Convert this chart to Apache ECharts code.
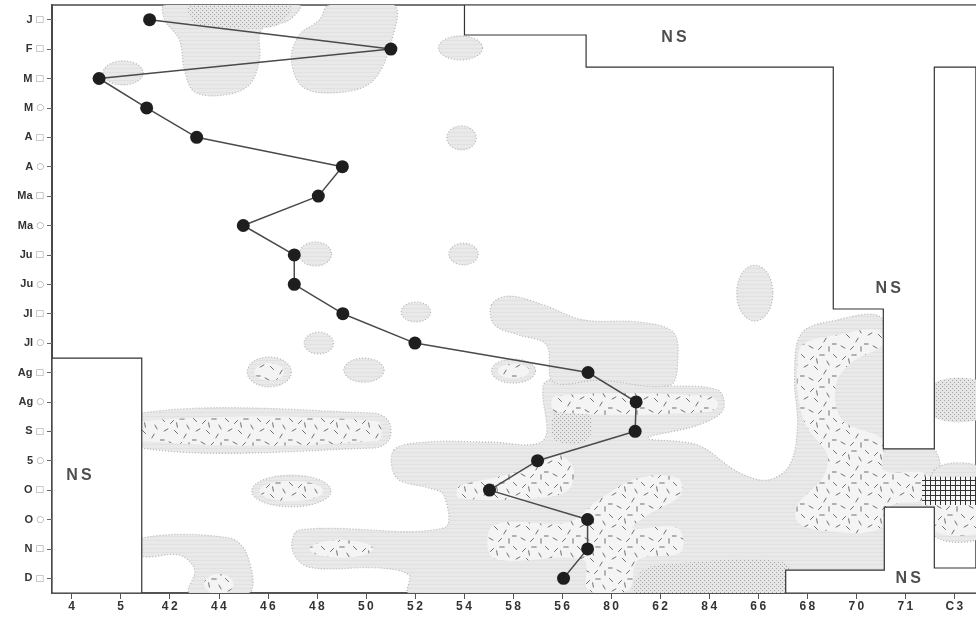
<!DOCTYPE html>
<html>
<head>
<meta charset="utf-8">
<script src="https://cdn.jsdelivr.net/npm/echarts@6/dist/echarts.min.js"></script>
<style>html,body{margin:0;padding:0;background:#fff}#c{width:976px;height:622px}</style>
</head>
<body>
<div id="c"></div>
<script>
// ---------- data ----------
const xLabels = ['4','5','42','44','46','48','50','52','54','58','56','80','62','84','66','68','70','71','C3'];
const yLabels = ['J','F','M','M','A','A','Ma','Ma','Ju','Ju','Jl','Jl','Ag','Ag','S','5','O','O','N','D'];
const yMarks  = ['□','□','□','○','□','○','□','○','□','○','□','○','□','○','□','○','□','○','□','□'];
const trackX  = [1.59,6.51,0.56,1.53,2.55,5.52,5.03,3.50,4.54,4.54,5.53,7.00,10.53,11.51,11.49,9.50,8.52,10.52,10.52,10.03];

// non-significant zones (x in tick units, y in row units)
const nsZones = [
  [[8.01,-0.5],[8.01,0.52],[10.49,0.52],[10.49,1.61],[15.53,1.61],[15.53,9.84],[16.55,9.84],[16.55,14.60],[17.59,14.60],[17.59,1.61],[18.6,1.61],[18.6,-0.5]],
  [[14.56,19.5],[14.56,18.72],[16.57,18.72],[16.57,16.58],[17.59,16.58],[17.59,18.65],[18.6,18.65],[18.6,19.5]],
  [[-0.4,11.51],[1.43,11.51],[1.43,19.5],[-0.4,19.5]]
];
const nsLabels = [[12.28,0.62],[16.65,9.16],[0.15,15.49],[17.06,19.0]];

// shaded contour zones
const grayZones = [
  [[1.90,-0.5],[4.64,-0.5],[4.44,0.01],[3.87,0.35],[3.83,1.37],[3.62,2.22],[3.12,2.56],[2.51,2.46],[2.30,1.71],[2.20,0.69],[1.90,0.01]],
  [[5.25,-0.5],[6.57,-0.5],[6.53,0.69],[6.16,2.05],[5.55,2.46],[4.74,2.32],[4.48,1.37],[4.64,0.52],[5.05,0.01]],
  [[6.57,14.64],[7.28,14.36],[8.50,14.36],[9.62,14.30],[9.62,12.43],[9.92,12.19],[11.14,12.19],[11.96,12.43],[13.18,12.60],[13.28,13.28],[12.77,13.79],[11.75,14.23],[12.77,14.47],[13.58,15.38],[14.19,15.66],[14.64,15.15],[14.80,13.79],[14.74,12.26],[14.86,10.72],[15.41,10.28],[16.55,10.28],[16.55,19.5],[6.88,19.5],[6.88,18.89],[6.27,18.65],[4.84,18.62],[4.50,18.04],[4.64,17.36],[7.59,17.29],[7.59,16.17],[7.28,15.93],[6.63,15.59]],
  [[8.56,9.70],[8.91,9.40],[9.62,9.70],[10.43,10.21],[11.55,10.28],[12.26,10.62],[12.36,11.57],[12.20,12.43],[10.74,12.26],[9.82,12.32],[9.68,11.06],[9.11,10.72],[8.62,10.38]],
  [[1.43,13.38],[6.16,13.38],[6.47,13.68],[6.47,14.30],[6.16,14.57],[1.43,14.57]],
  [[1.43,17.63],[3.22,17.63],[3.58,18.21],[3.62,19.5],[2.40,19.5],[2.51,18.72],[2.20,18.21],[1.43,18.24]],
  [[16.55,14.60],[17.59,14.60],[17.59,16.58],[16.55,16.58]],
  [[17.59,15.32],[18.6,15.32],[18.6,17.53],[17.59,17.53]]
];
const dashZones = [
  [[1.43,13.65],[6.23,13.65],[6.23,14.33],[1.43,14.33]],
  [[9.86,12.80],[13.01,12.80],[13.18,13.07],[13.01,13.34],[9.86,13.34]],
  [[7.89,15.89],[8.71,15.55],[9.52,15.15],[9.92,14.81],[10.23,15.25],[10.13,16.0],[9.52,16.27],[7.89,16.27]],
  [[8.60,17.19],[10.13,17.09],[10.74,16.34],[11.55,15.59],[12.36,15.59],[12.42,16.17],[11.75,16.85],[11.45,17.29],[12.36,17.29],[12.42,18.11],[11.55,18.38],[11.35,19.40],[10.53,19.40],[10.43,18.38],[8.60,18.31]],
  [[14.90,11.06],[15.62,10.72],[16.43,10.55],[16.55,11.06],[15.92,11.64],[15.58,12.43],[15.72,13.62],[16.55,14.30],[16.55,15.32],[17.34,15.39],[17.55,15.72],[17.34,16.34],[16.73,16.51],[16.43,17.36],[15.21,17.36],[14.80,17.08],[14.80,16.51],[15.31,15.59],[15.41,14.81],[14.97,13.79],[14.80,12.60],[14.80,11.74]],
  [[17.59,16.5],[18.6,16.5],[18.6,17.4],[17.59,17.4]]
];
const dotZones = [
  [[2.41,-0.5],[4.44,-0.5],[4.2,0.2],[3.0,0.25],[2.5,0.1]],
  [[9.86,13.38],[10.53,13.38],[10.53,14.30],[9.86,14.30]],
  [[11.49,19.5],[11.65,18.72],[12.36,18.48],[14.56,18.48],[14.56,19.5]],
  [[17.59,12.36],[18.6,12.36],[18.6,13.51],[17.59,13.51]]
];
const gridZones = [
  [[17.34,15.55],[18.6,15.55],[18.6,16.51],[17.34,16.51]]
];
// small blobs: [centreX, centreY, radiusX, radiusY]
const grayBlobs = [
  [1.05,1.81,0.41,0.41],[7.93,0.96,0.45,0.41],[7.95,4.02,0.30,0.41],[7.99,7.97,0.30,0.37],
  [4.97,7.97,0.33,0.41],[7.02,9.94,0.30,0.34],[5.04,11.0,0.30,0.37],[5.96,11.92,0.41,0.41],
  [13.93,9.3,0.37,0.95],[4.03,11.98,0.45,0.51],[9.01,11.95,0.45,0.41],[4.48,16.03,0.81,0.54]
];
const dashBlobs = [
  [4.03,11.98,0.30,0.30],[9.01,11.95,0.32,0.25],[4.48,16.03,0.65,0.35],[3.0,19.2,0.3,0.35],[5.5,18.0,0.65,0.3]
];

// ---------- textures ----------
function makePattern(w, h, draw) {
  const c = document.createElement('canvas');
  c.width = w; c.height = h;
  draw(c.getContext('2d'));
  return { type: 'pattern', image: c, repeat: 'repeat' };
}
const patGray = makePattern(4, 4, ctx => {
  ctx.fillStyle = '#e9e9e9'; ctx.fillRect(0, 0, 4, 4);
  ctx.fillStyle = '#e1e1e1'; ctx.fillRect(0, 0, 4, 1);
});
const patDots = makePattern(4, 4, ctx => {
  ctx.fillStyle = '#e6e6e6'; ctx.fillRect(0, 0, 4, 4);
  ctx.fillStyle = '#a4a4a4'; ctx.fillRect(0, 0, 1, 1); ctx.fillRect(2, 2, 1, 1);
});
const patGrid = makePattern(5, 5, ctx => {
  ctx.fillStyle = '#f6f6f6'; ctx.fillRect(0, 0, 5, 5);
  ctx.fillStyle = '#333'; ctx.fillRect(0, 0, 5, 1); ctx.fillRect(0, 0, 1, 5);
});
const dashMarks = [[3,4,45],[12,6,-45],[22,3,0],[28,11,60],[6,14,-30],[16,16,45],[25,20,-60],[2,24,0],[11,27,30],[20,28,-45],[29,29,90],[17,9,80]];
const patDash = makePattern(32, 32, ctx => {
  ctx.fillStyle = '#f4f4f4'; ctx.fillRect(0, 0, 32, 32);
  ctx.strokeStyle = '#6e6e6e'; ctx.lineWidth = 1;
  dashMarks.forEach(([x, y, a]) => {
    const r = a * Math.PI / 180, dx = Math.cos(r) * 2.6, dy = Math.sin(r) * 2.6;
    ctx.beginPath(); ctx.moveTo(x - dx, y - dy); ctx.lineTo(x + dx, y + dy); ctx.stroke();
  });
});

// ---------- helpers ----------
function ellipsePts(b) {
  const pts = [];
  for (let k = 0; k < 32; k++) {
    const t = k / 32 * Math.PI * 2;
    pts.push([b[0] + b[2] * Math.cos(t), b[1] + b[3] * Math.sin(t)]);
  }
  return pts;
}
function polySeries(list, style, smooth, z) {
  return {
    type: 'custom', silent: true, clip: true, z: z,
    data: list.map((_, i) => [i]),
    renderItem: function (params, api) {
      const pts = list[params.dataIndex].map(p => api.coord(p));
      return { type: 'polygon', shape: { points: pts, smooth: smooth }, style: Object.assign({}, style) };
    }
  };
}

const chart = echarts.init(document.getElementById('c'), null, { renderer: 'canvas' });
const grayStyle = { fill: patGray, stroke: '#b6b6b6', lineWidth: 1.2, lineDash: [1, 2] };

chart.setOption({
  backgroundColor: '#ffffff',
  animation: false,
  grid: { left: 52, right: -2, top: 5, bottom: 29, show: true, borderColor: '#4a4a4a', borderWidth: 1.6 },
  xAxis: {
    type: 'value', min: -0.4, max: 18.44,
    axisLine: { show: true, onZero: false, lineStyle: { color: '#4a4a4a', width: 1.6 } },
    axisTick: { show: true, length: 6, lineStyle: { color: '#555' }, customValues: xLabels.map((_, i) => i) },
    axisLabel: {
      customValues: xLabels.map((_, i) => i), margin: 8,
      fontFamily: 'Liberation Sans, Arial', fontWeight: 'bold', fontSize: 12, color: '#333',
      formatter: v => xLabels[Math.round(v)].split('').join('\u2009')
    },
    splitLine: { show: false }
  },
  yAxis: {
    type: 'value', inverse: true, min: -0.5, max: 19.5,
    axisLine: { show: true, onZero: false, lineStyle: { color: '#4a4a4a', width: 2 } },
    axisTick: { show: true, length: 5, lineStyle: { color: '#666' }, customValues: yLabels.map((_, i) => i) },
    axisLabel: {
      customValues: yLabels.map((_, i) => i), margin: 8,
      formatter: v => '{a|' + yLabels[Math.round(v)] + '}{s|' + yMarks[Math.round(v)] + '}',
      rich: {
        a: { fontFamily: 'Liberation Sans, Arial', fontWeight: 'bold', fontSize: 11, color: '#333', padding: [0, 3, 0, 0] },
        s: { fontFamily: 'DejaVu Sans', fontSize: 9, color: '#999' }
      }
    },
    splitLine: { show: false }
  },
  series: [
    polySeries(grayZones, grayStyle, 0.35, 1),
    polySeries(grayBlobs.map(ellipsePts), grayStyle, 0, 1),
    polySeries(dotZones, { fill: patDots, stroke: null }, 0.35, 2),
    polySeries(dashZones, { fill: patDash, stroke: null }, 0.35, 2),
    polySeries(dashBlobs.map(ellipsePts), { fill: patDash, stroke: null }, 0, 2),
    polySeries(gridZones, { fill: patGrid, stroke: null }, 0, 2),
    polySeries(nsZones, { fill: '#ffffff', stroke: '#333', lineWidth: 1.2 }, 0, 3),
    {
      type: 'scatter', z: 6, symbolSize: 1, silent: true,
      itemStyle: { color: 'rgba(0,0,0,0)' },
      data: nsLabels,
      label: { show: true, position: 'inside', formatter: 'N\u2009S', fontFamily: 'Liberation Sans, Arial', fontWeight: 'bold', fontSize: 16, color: '#222' }
    },
    {
      type: 'line', z: 5, silent: true,
      data: trackX.map((x, i) => [x, i]),
      symbol: 'circle', symbolSize: 13,
      lineStyle: { color: '#4a4a4a', width: 1.5 },
      itemStyle: { color: '#1e1e1e', borderWidth: 0 }
    }
  ]
});
</script>
</body>
</html>
